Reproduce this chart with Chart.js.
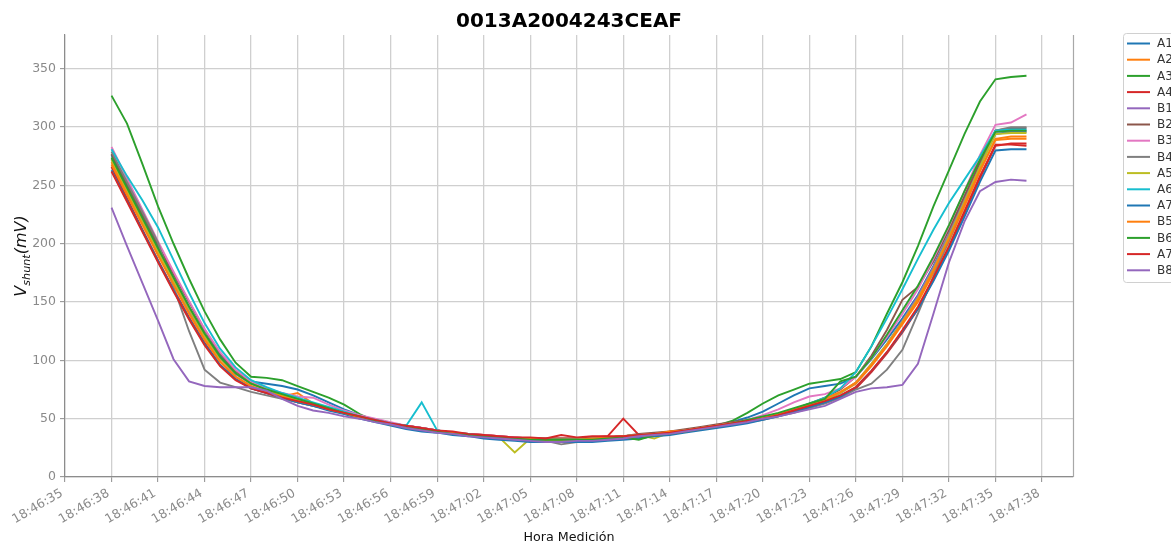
<!DOCTYPE html>
<html>
<head>
<meta charset="utf-8">
<script src="https://cdn.jsdelivr.net/npm/chart.js@4.4.1/dist/chart.umd.min.js"></script>
<style>
  html, body { margin: 0; padding: 0; background: #ffffff; overflow: hidden; }
  canvas { display: block; }
</style>
</head>
<body>
<canvas id="chart" width="1171" height="547"></canvas>
<script>
// ---- data -------------------------------------------------------------
const chartTitle = '0013A2004243CEAF';
const xAxisTitle = 'Hora Medición';

const times = [
  '18:46:38','18:46:39','18:46:40','18:46:41','18:46:42','18:46:43','18:46:44','18:46:45','18:46:46','18:46:47',
  '18:46:48','18:46:49','18:46:50','18:46:51','18:46:52','18:46:53','18:46:54','18:46:55','18:46:56','18:46:57',
  '18:46:58','18:46:59','18:47:00','18:47:01','18:47:02','18:47:03','18:47:04','18:47:05','18:47:06','18:47:07',
  '18:47:08','18:47:09','18:47:10','18:47:11','18:47:12','18:47:13','18:47:14','18:47:15','18:47:16','18:47:17',
  '18:47:18','18:47:19','18:47:20','18:47:21','18:47:22','18:47:23','18:47:24','18:47:25','18:47:26','18:47:27',
  '18:47:28','18:47:29','18:47:30','18:47:31','18:47:32','18:47:33','18:47:34','18:47:35','18:47:36','18:47:37'
];

const tickLabels = [
  '18:46:35','18:46:38','18:46:41','18:46:44','18:46:47','18:46:50','18:46:53','18:46:56',
  '18:46:59','18:47:02','18:47:05','18:47:08','18:47:11','18:47:14','18:47:17','18:47:20',
  '18:47:23','18:47:26','18:47:29','18:47:32','18:47:35','18:47:38'
];
const axisEnd = '18:47:40';
const yTicks = [0, 50, 100, 150, 200, 250, 300, 350];
const yMax = 379;

const seriesNames = ['A1','A2','A3','A4','B1','B2','B3','B4','A5','A6','A7','B5','B6','A7','B8'];
const seriesColors = ['#1f77b4','#ff7f0e','#2ca02c','#d62728','#9467bd','#8c564b','#e377c2','#7f7f7f',
                      '#bcbd22','#17becf','#1f77b4','#ff7f0e','#2ca02c','#d62728','#9467bd'];

// shunt voltage in mV, one reading per second
const a1 = [276,250,223,197,171,146,123,104,90,82, 80,78,75,70,64,58,53,49,46,44,
            42,40,38,36,35,34,33,32,31,31, 31,32,33,34,35,37,38,40,41,43,
            47,51,56,63,70,76,78,80,86,101, 118,136,156,181,208,238,267,294,296,296];
const a2 = [270,244,217,191,166,141,118,99,86,78, 73,69,72,63,59,55,52,49,46,43,
            41,39,38,37,35,34,33,33,32,32, 32,33,34,35,36,37,39,40,42,44,
            46,48,51,54,57,61,66,72,80,95, 112,131,150,175,202,232,262,290,292,292];
const a3 = [327,303,268,232,200,170,142,118,98,86, 85,83,78,73,68,62,54,48,45,43,
            41,39,37,36,35,34,33,32,32,32, 32,33,33,35,36,37,38,40,42,44,
            48,55,63,70,75,80,82,84,90,112, 140,167,198,232,263,294,322,341,343,344];
const a4 = [266,239,212,186,161,137,115,96,84,76, 72,68,64,61,58,55,52,49,46,44,
            42,40,38,37,36,35,34,33,33,33, 33,34,35,50,36,37,38,40,42,44,
            46,48,50,53,56,60,64,69,76,90, 106,124,144,169,196,226,256,284,286,286];
const b1 = [273,247,220,194,168,143,121,102,88,80, 75,70,66,62,58,55,51,48,45,43,
            41,39,37,36,34,33,32,31,31,30, 30,31,32,33,34,36,37,39,41,43,
            45,47,50,53,57,61,66,72,81,97, 114,134,155,180,208,238,268,296,297,297];
const b2 = [277,251,225,199,174,150,126,106,91,81, 76,71,67,63,59,56,52,49,46,44,
            42,40,38,37,36,35,34,33,33,33, 33,33,34,35,37,38,39,41,43,45,
            47,49,51,54,58,63,68,75,86,104, 126,152,163,185,212,241,270,297,299,299];
const b3 = [283,256,229,202,176,151,127,107,92,82, 76,72,69,68,62,57,53,50,47,44,
            42,40,38,37,36,35,34,33,32,32, 32,33,34,35,36,37,38,40,42,44,
            46,49,53,58,64,69,71,76,86,102, 120,140,161,187,215,245,276,302,304,311];
const b4 = [279,253,227,201,163,125,92,81,77,73, 70,67,64,61,58,55,52,49,46,43,
            41,39,38,36,35,34,33,32,31,28, 30,31,33,34,35,36,38,39,41,43,
            45,47,49,52,55,59,63,68,75,80, 92,109,140,172,203,235,266,297,300,300];
const a5 = [272,246,219,193,168,144,121,102,89,80, 75,70,66,62,58,55,51,48,45,43,
            41,39,37,36,35,34,21,33,32,32, 32,33,34,35,36,33,38,40,42,44,
            46,48,51,54,58,62,66,72,81,97, 114,133,153,178,206,236,266,294,295,295];
const a6 = [281,258,237,214,186,158,132,110,94,83, 77,72,68,64,60,56,52,49,46,44,
            64,40,38,37,35,34,33,32,32,32, 32,33,34,35,36,37,38,40,42,44,
            46,48,51,54,58,63,68,76,90,112, 136,161,187,212,235,255,275,297,298,298];
const a7 = [263,237,211,185,160,136,114,96,84,76, 72,68,64,61,57,54,50,47,44,41,
            39,38,36,35,33,32,31,30,30,30, 30,30,31,32,33,35,36,38,40,42,
            44,46,49,52,56,60,64,69,77,91, 107,125,144,168,194,223,253,280,281,281];
const b5 = [268,242,216,190,165,140,118,99,86,78, 73,69,65,62,58,55,51,48,45,43,
            41,39,38,36,35,34,33,33,32,32, 32,33,34,35,36,37,39,40,42,44,
            46,48,51,54,58,62,67,73,81,96, 113,132,152,177,204,234,263,289,290,290];
const b6 = [274,248,222,196,171,146,123,103,89,80, 75,71,67,63,59,55,52,48,45,43,
            41,39,37,36,35,34,33,32,32,32, 32,32,33,34,32,36,37,39,41,43,
            46,49,52,55,59,63,67,82,86,102, 122,143,164,189,216,245,272,296,297,297];
const a7b = [262,236,210,184,159,135,113,95,83,76, 72,68,65,62,58,55,52,49,46,44,
             42,40,39,37,36,35,34,34,33,36, 34,35,35,35,36,37,38,40,42,44,
             46,48,50,53,57,61,65,70,77,91, 107,126,146,171,198,228,258,285,285,284];
const b8 = [231,198,166,134,101,82,78,77,77,77, 74,67,61,57,55,52,50,47,45,42,
            40,38,37,35,34,33,32,31,30,30, 31,31,32,33,35,36,37,39,41,43,
            45,47,50,52,55,58,61,67,73,76, 77,79,97,140,184,219,245,253,255,254];

const seriesValues = [a1, a2, a3, a4, b1, b2, b3, b4, a5, a6, a7, b5, b6, a7b, b8];

// ---- helpers ------------------------------------------------------------
const toSeconds = (s) => { const [h, m, sec] = s.split(':').map(Number); return h * 3600 + m * 60 + sec; };
const origin = toSeconds(tickLabels[0]);
const rel = (s) => toSeconds(s) - origin;

const FONT = '"DejaVu Sans", "Liberation Sans", sans-serif';
const TICK_COLOR = '#8a8a8a';
const GRID_COLOR = '#cfcfcf';
const SPINE_COLOR = '#8c8c8c';

const datasets = seriesNames.map((name, i) => ({
  label: name,
  data: times.map((t, k) => ({ x: rel(t), y: seriesValues[i][k] })),
  borderColor: seriesColors[i],
  backgroundColor: seriesColors[i],
  borderWidth: 1.9,
  pointRadius: 0,
  tension: 0,
  fill: false,
  order: seriesNames.length - i
}));

// title, axis titles, right spine and the legend box
const decorations = {
  id: 'decorations',
  afterDraw(chart) {
    const { ctx, chartArea: a } = chart;
    ctx.save();

    // right spine
    ctx.strokeStyle = '#a8a8a8';
    ctx.lineWidth = 1.2;
    ctx.beginPath();
    ctx.moveTo(a.right + 0.5, a.top);
    ctx.lineTo(a.right + 0.5, a.bottom);
    ctx.stroke();

    // chart title
    ctx.fillStyle = '#000000';
    ctx.font = 'bold 20px ' + FONT;
    ctx.textAlign = 'center';
    ctx.textBaseline = 'alphabetic';
    ctx.fillText(chartTitle, (a.left + a.right) / 2, 26.5);

    // x axis title
    ctx.font = '12.7px ' + FONT;
    ctx.fillStyle = '#111111';
    ctx.fillText(xAxisTitle, (a.left + a.right) / 2, 541);

    // y axis title: V_shunt(mV)
    const big = 'italic 16px ' + FONT;
    const small = 'italic 11.2px ' + FONT;
    ctx.font = big;  const wV = ctx.measureText('V').width;
    const wP = ctx.measureText('(mV)').width;
    ctx.font = small; const wS = ctx.measureText('shunt').width;
    const total = wV + wS + wP;
    ctx.translate(26, (a.top + a.bottom) / 2);
    ctx.rotate(-Math.PI / 2);
    ctx.textAlign = 'left';
    let x0 = -total / 2;
    ctx.font = big;   ctx.fillText('V', x0, 0); x0 += wV;
    ctx.font = small; ctx.fillText('shunt', x0, 3.5); x0 += wS;
    ctx.font = big;   ctx.fillText('(mV)', x0, 0);
    ctx.setTransform(1, 0, 0, 1, 0, 0);

    // legend
    const lx = 1123, ly = 33, lw = 80, lh = 249, step = 16.2;
    ctx.fillStyle = 'rgba(255,255,255,0.85)';
    ctx.strokeStyle = '#d0d0d0';
    ctx.lineWidth = 1;
    ctx.beginPath();
    ctx.roundRect(lx + 0.5, ly + 0.5, lw, lh, 3);
    ctx.fill();
    ctx.stroke();
    ctx.font = '12px ' + FONT;
    ctx.textAlign = 'left';
    ctx.textBaseline = 'middle';
    chart.data.datasets.forEach((ds, i) => {
      const y = ly + 10.5 + i * step;
      ctx.strokeStyle = ds.borderColor;
      ctx.lineWidth = 2;
      ctx.beginPath();
      ctx.moveTo(lx + 4, y);
      ctx.lineTo(lx + 27, y);
      ctx.stroke();
      ctx.fillStyle = '#333333';
      ctx.fillText(ds.label, lx + 34, y + 0.5);
    });
    ctx.restore();
  }
};

new Chart(document.getElementById('chart'), {
  type: 'line',
  data: { datasets },
  options: {
    responsive: false,
    animation: false,
    devicePixelRatio: 1,
    layout: { padding: { top: 35, right: 98, left: 0, bottom: 0 } },
    plugins: { legend: { display: false }, title: { display: false }, tooltip: { enabled: false } },
    scales: {
      x: {
        type: 'linear',
        min: 0,
        max: rel(axisEnd),
        afterBuildTicks: (scale) => { scale.ticks = tickLabels.map((t) => ({ value: rel(t) })); },
        afterFit: (scale) => { scale.height = 70; },
        ticks: {
          autoSkip: false,
          minRotation: 30,
          maxRotation: 30,
          padding: 4,
          labelOffset: -3,
          color: TICK_COLOR,
          font: { family: FONT, size: 12.5 },
          callback: (value, index) => tickLabels[index]
        },
        grid: { color: GRID_COLOR, lineWidth: 1.3, drawTicks: true, tickLength: 5, tickColor: SPINE_COLOR, tickWidth: 1 },
        border: { display: true, color: SPINE_COLOR, width: 1.2 }
      },
      y: {
        min: 0,
        max: yMax,
        afterBuildTicks: (scale) => { scale.ticks = yTicks.map((v) => ({ value: v })); },
        afterFit: (scale) => { scale.width = 65; },
        ticks: {
          padding: 4,
          color: TICK_COLOR,
          font: { family: FONT, size: 12.5 },
          callback: (value) => String(value)
        },
        grid: { color: GRID_COLOR, lineWidth: 1.3, drawTicks: true, tickLength: 5, tickColor: SPINE_COLOR, tickWidth: 1 },
        border: { display: true, color: SPINE_COLOR, width: 1.2 }
      }
    }
  },
  plugins: [decorations]
});
</script>
</body>
</html>
